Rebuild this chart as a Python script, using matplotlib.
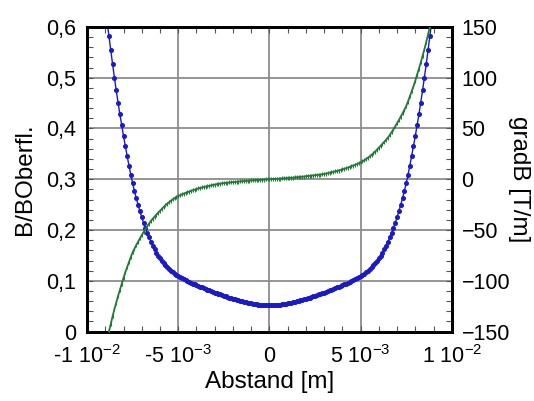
import numpy as np
import matplotlib
matplotlib.use("Agg")
import matplotlib.pyplot as plt
from matplotlib.ticker import MultipleLocator, FixedLocator, FixedFormatter

plt.rcParams['font.family'] = ['Liberation Sans', 'DejaVu Sans']
plt.rcParams['mathtext.fontset'] = 'custom'
plt.rcParams['mathtext.rm'] = 'Liberation Sans'
plt.rcParams['mathtext.it'] = 'Liberation Sans:italic'

# ── Data (step 0.1 mm) ───────────────────────────────────────────────────────
x = np.arange(-89, 90) * 1e-4   # Abstand [m]

b_left = [
    0.6100, 0.5820, 0.5540, 0.5265, 0.5000, 0.4750, 0.4510, 0.4280, 0.4060, 0.3850,
    0.3650, 0.3455, 0.3265, 0.3085, 0.2920, 0.2768, 0.2626, 0.2493, 0.2368, 0.2250,
    0.2140, 0.2038, 0.1943, 0.1854, 0.1770, 0.1694, 0.1623, 0.1557, 0.1496, 0.1440,
    0.1389, 0.1343, 0.1302, 0.1265, 0.1230, 0.1198, 0.1169, 0.1141, 0.1115, 0.1090,
    0.1070, 0.1050, 0.1031, 0.1013, 0.0995, 0.0979, 0.0963, 0.0947, 0.0931, 0.0915,
    0.0900, 0.0885, 0.0870, 0.0855, 0.0840, 0.0826, 0.0812, 0.0798, 0.0784, 0.0770,
    0.0757, 0.0744, 0.0731, 0.0718, 0.0705, 0.0693, 0.0681, 0.0669, 0.0657, 0.0645,
    0.0635, 0.0625, 0.0615, 0.0605, 0.0595, 0.0586, 0.0577, 0.0569, 0.0562, 0.0555,
    0.0549, 0.0543, 0.0538, 0.0534, 0.0530, 0.0526, 0.0524, 0.0522, 0.0520,
]
b_right = [
    0.0520, 0.0520, 0.0522, 0.0524, 0.0526, 0.0530, 0.0534, 0.0538, 0.0543, 0.0549,
    0.0555, 0.0562, 0.0569, 0.0577, 0.0586, 0.0595, 0.0605, 0.0615, 0.0625, 0.0635,
    0.0645, 0.0657, 0.0669, 0.0681, 0.0693, 0.0705, 0.0718, 0.0731, 0.0744, 0.0757,
    0.0770, 0.0784, 0.0798, 0.0812, 0.0826, 0.0840, 0.0855, 0.0870, 0.0885, 0.0900,
    0.0915, 0.0931, 0.0947, 0.0963, 0.0979, 0.0995, 0.1013, 0.1031, 0.1050, 0.1070,
    0.1090, 0.1115, 0.1141, 0.1169, 0.1198, 0.1230, 0.1265, 0.1302, 0.1343, 0.1389,
    0.1440, 0.1496, 0.1557, 0.1623, 0.1694, 0.1770, 0.1854, 0.1943, 0.2038, 0.2140,
    0.2250, 0.2368, 0.2493, 0.2626, 0.2768, 0.2920, 0.3085, 0.3265, 0.3455, 0.3650,
    0.3850, 0.4060, 0.4280, 0.4510, 0.4750, 0.5000, 0.5265, 0.5540, 0.5820, 0.6100,
]
g_left = [
    -158.0, -150.0, -142.5, -135.0, -128.0, -121.5, -115.0, -109.0, -103.0, -97.0,
    -91.5, -86.5, -81.5, -76.5, -72.0, -68.3, -64.8, -61.5, -58.2, -55.0,
    -52.0, -49.0, -46.3, -43.6, -41.0, -38.9, -36.8, -34.8, -32.9, -31.0,
    -29.1, -27.3, -25.6, -24.0, -22.5, -21.1, -19.8, -18.6, -17.5, -16.5,
    -15.7, -14.9, -14.2, -13.5, -12.8, -12.1, -11.5, -10.8, -10.2, -9.6,
    -9.1, -8.6, -8.1, -7.7, -7.2, -6.8, -6.4, -6.0, -5.6, -5.2,
    -4.9, -4.6, -4.3, -4.1, -3.8, -3.6, -3.4, -3.2, -3.0, -2.8,
    -2.6, -2.5, -2.3, -2.1, -2.0, -1.8, -1.7, -1.5, -1.4, -1.2,
    -1.1, -1.0, -0.8, -0.7, -0.6, -0.5, -0.4, -0.2, -0.1,
]
g_right = [
    0.0, 0.1, 0.2, 0.4, 0.5, 0.6, 0.7, 0.8, 1.0, 1.1,
    1.2, 1.4, 1.5, 1.7, 1.8, 2.0, 2.1, 2.3, 2.5, 2.6,
    2.8, 3.0, 3.2, 3.4, 3.6, 3.8, 4.1, 4.3, 4.6, 4.9,
    5.2, 5.6, 6.0, 6.4, 6.8, 7.2, 7.7, 8.1, 8.6, 9.1,
    9.6, 10.2, 10.8, 11.5, 12.1, 12.8, 13.5, 14.2, 14.9, 15.7,
    16.5, 17.5, 18.6, 19.8, 21.1, 22.5, 24.0, 25.6, 27.3, 29.1,
    31.0, 32.9, 34.8, 36.8, 38.9, 41.0, 43.6, 46.3, 49.0, 52.0,
    55.0, 58.2, 61.5, 64.8, 68.3, 72.0, 76.5, 81.5, 86.5, 91.5,
    97.0, 103.0, 109.0, 115.0, 121.5, 128.0, 135.0, 142.5, 150.0, 158.0,
]
b_ratio = b_left + b_right     # B/BOberfl.
grad_b = g_left + g_right      # gradB [T/m]

x_ticks = [-0.01, -0.005, 0, 0.005, 0.01]
x_labels = ['-1 10$^{-2}$', '-5 10$^{-3}$', '0', '5 10$^{-3}$', '1 10$^{-2}$']
y_ticks = [0, 0.1, 0.2, 0.3, 0.4, 0.5, 0.6]
y_labels = ['0', '0,1', '0,2', '0,3', '0,4', '0,5', '0,6']
y2_ticks = [-150, -100, -50, 0, 50, 100, 150]

BLUE = '#1a1ac8'
GREEN = '#217a38'

# ── Figure ───────────────────────────────────────────────────────────────────
fig = plt.figure(figsize=(5.34, 4.01), dpi=100)
ax = fig.add_axes([0.163, 0.173, 0.683, 0.760])
ax2 = ax.twinx()

ax.plot(x, b_ratio, '-', color=BLUE, lw=1.0, marker='o', ms=2.6,
        mec=BLUE, mfc=BLUE, zorder=3)
ax2.plot(x, grad_b, '-', color=GREEN, lw=1.3, marker='|', ms=2.5,
         mew=0.8, zorder=3)

ax.set_xlim(-0.01, 0.01)
ax.set_ylim(0, 0.6)
ax2.set_ylim(-150, 150)

ax.xaxis.set_major_locator(FixedLocator(x_ticks))
ax.xaxis.set_major_formatter(FixedFormatter(x_labels))
ax.xaxis.set_minor_locator(MultipleLocator(0.001))
ax.yaxis.set_major_locator(FixedLocator(y_ticks))
ax.yaxis.set_major_formatter(FixedFormatter(y_labels))
ax.yaxis.set_minor_locator(MultipleLocator(0.02))
ax2.yaxis.set_major_locator(FixedLocator(y2_ticks))
ax2.yaxis.set_minor_locator(MultipleLocator(10))

ax.grid(True, which='major', color='#8c8c8c', lw=1.3)
ax.set_axisbelow(True)

ax.tick_params(which='both', direction='in', top=True, right=False,
               labelsize=15.5, width=0.8, color='#555555', length=4)
ax.tick_params(axis='x', pad=10)
ax.tick_params(axis='y', pad=8)
ax2.tick_params(which='both', direction='in', labelsize=15.5, width=0.8,
                color='#555555', length=4, pad=7)

for a in (ax, ax2):
    for s in a.spines.values():
        s.set_linewidth(2.0)
        s.set_color('black')

ax.set_xlabel('Abstand [m]', fontsize=17.5, labelpad=2)
ax.set_ylabel('B/BOberfl.', fontsize=17.5, va='center')
ax.yaxis.set_label_coords(-0.17, 0.5)
ax2.set_ylabel('gradB [T/m]', fontsize=17.5, rotation=-90, va='center')
ax2.yaxis.set_label_coords(1.183, 0.5)

fig.savefig('out.png', dpi=100)
plt.close(fig)
